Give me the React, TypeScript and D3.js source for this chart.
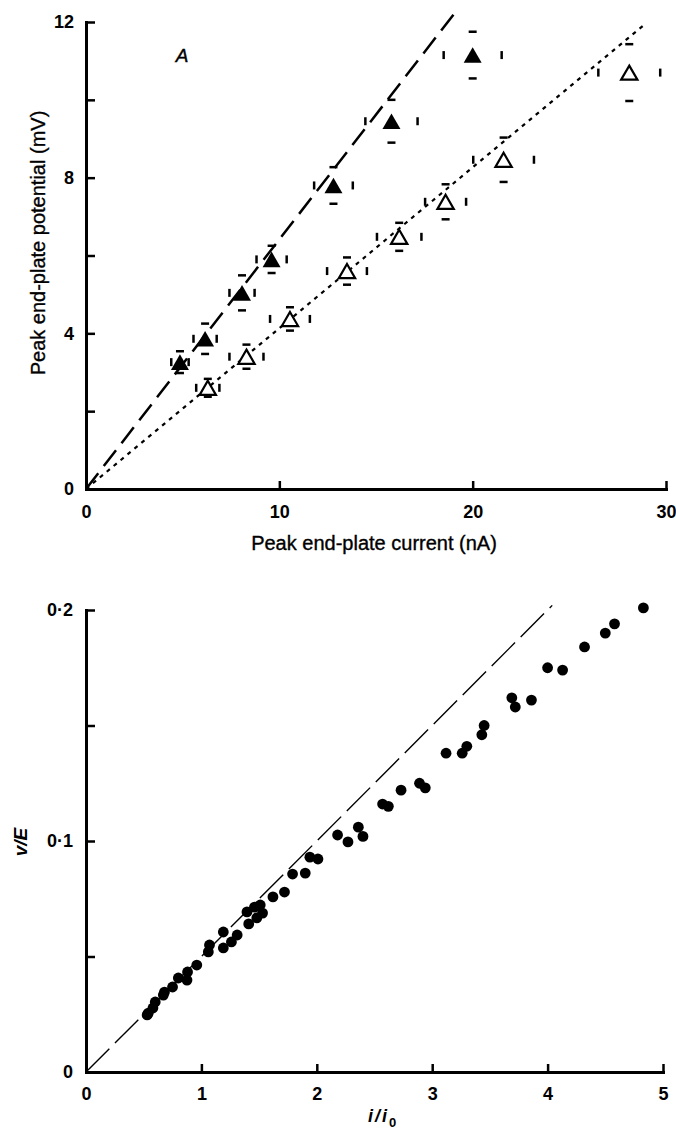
import * as d3 from 'd3';
import React, { useEffect, useRef } from 'react';

// Panel A: filled triangles (dashed fit)
const filledCurrent = [4.86, 6.16, 8.07, 9.6, 12.8, 15.8, 20.0];
const filledPotential = [3.26, 3.86, 5.04, 5.9, 7.8, 9.45, 11.15];
const filledCurrentErr = [0.45, 0.6, 0.65, 0.78, 1.0, 1.35, 1.5];
const filledPotentialErr = [0.28, 0.39, 0.45, 0.35, 0.47, 0.55, 0.6];

// Panel A: open triangles (dotted fit)
const openCurrent = [6.3, 8.3, 10.55, 13.5, 16.2, 18.6, 21.6, 28.1];
const openPotential = [2.6, 3.4, 4.37, 5.6, 6.48, 7.38, 8.46, 10.7];
const openCurrentErr = [0.6, 0.88, 1.03, 1.03, 1.15, 1.06, 1.57, 1.6];
const openPotentialErr = [0.23, 0.31, 0.3, 0.35, 0.36, 0.45, 0.57, 0.73];

const dashedFit = [[0, 0], [19.1, 12.25]];
const dottedFit = [[0, 0], [28.8, 11.9]];

// Panel B: normalised points
const ratioCurrent = [
    0.53, 0.54, 0.58, 0.6, 0.67, 0.68, 0.75, 0.8, 0.875, 0.88, 0.96,
    1.06, 1.07, 1.19, 1.19, 1.26, 1.31,
    1.395, 1.41, 1.46, 1.48, 1.51, 1.53,
    1.62, 1.72, 1.79, 1.9, 1.94, 2.01,
    2.18, 2.27, 2.36, 2.4, 2.57, 2.62, 2.73, 2.89, 2.94,
    3.12, 3.26, 3.3, 3.43, 3.45, 3.69, 3.72, 3.86,
    4.0, 4.13, 4.32, 4.5, 4.58, 4.83
];
const ratioPotential = [
    0.0247, 0.0255, 0.0277, 0.0303, 0.0333, 0.0346, 0.0368, 0.0407, 0.0398, 0.0433, 0.0463,
    0.052, 0.055, 0.0537, 0.0606, 0.0563, 0.0593,
    0.0693, 0.0641, 0.0714, 0.0667, 0.0723, 0.0688,
    0.0758, 0.0779, 0.0857, 0.0861, 0.093, 0.0922,
    0.1026, 0.0996, 0.106, 0.102, 0.116, 0.115, 0.122, 0.125, 0.123,
    0.138, 0.138, 0.141, 0.146, 0.15, 0.162, 0.158, 0.161,
    0.175, 0.174, 0.184, 0.19, 0.194, 0.2009
];
const unityLine = [[0, 0], [4.04, 0.202]];

// Tick values and labels
const topXTicks = [0, 10, 20, 30];
const topXLabels = ['0', '10', '20', '30'];
const topYTicks = [0, 2, 4, 6, 8, 10, 12];
const topYLabels = ['0', '', '4', '', '8', '', '12'];
const bottomXTicks = [0, 1, 2, 3, 4, 5];
const bottomXLabels = ['0', '1', '2', '3', '4', '5'];
const bottomYTicks = [0, 0.05, 0.1, 0.15, 0.2];
const bottomYLabels = ['0', '', '0·1', '', '0·2'];

const FONT = "'Liberation Sans', Arial, Helvetica, sans-serif";

const App = () => {
    const svgRef = useRef(null);

    useEffect(() => {
        const svg = d3.select(svgRef.current);
        svg.selectAll('*').remove();

        // scales
        const xA = d3.scaleLinear().domain([0, 30]).range([86, 666]);
        const yA = d3.scaleLinear().domain([0, 12]).range([489, 22]);
        const xB = d3.scaleLinear().domain([0, 5]).range([86, 663]);
        const yB = d3.scaleLinear().domain([0, 0.2]).range([1072, 610]);

        const drawAxes = (x, y, xTicks, xLabels, yTicks, yLabels, xPad, yPad) => {
            const gx = svg.append('g')
                .attr('transform', `translate(0,${y.range()[0]})`)
                .call(d3.axisBottom(x).tickValues(xTicks).tickSize(-8).tickSizeOuter(0)
                    .tickPadding(xPad).tickFormat((d, i) => xLabels[i]));
            const gy = svg.append('g')
                .attr('transform', `translate(${x.range()[0]},0)`)
                .call(d3.axisLeft(y).tickValues(yTicks).tickSize(-9).tickSizeOuter(0)
                    .tickPadding(yPad).tickFormat((d, i) => yLabels[i]));
            [gx, gy].forEach(g => {
                g.attr('font-family', FONT).attr('font-size', 18).attr('font-weight', 'bold');
                g.select('.domain').attr('stroke', '#000').attr('stroke-width', 3)
                    .attr('stroke-linecap', 'square');
                g.selectAll('.tick line').attr('stroke', '#000').attr('stroke-width', 2.5);
                g.selectAll('.tick text').attr('fill', '#000');
            });
        };

        drawAxes(xA, yA, topXTicks, topXLabels, topYTicks, topYLabels, 16, 12);
        drawAxes(xB, yB, bottomXTicks, bottomXLabels, bottomYTicks, bottomYLabels, 15, 13);

        const line = (x, y) => d3.line().x(d => x(d[0])).y(d => y(d[1]));

        // fitted lines, panel A
        svg.append('path').datum(dashedFit)
            .attr('d', line(xA, yA)).attr('fill', 'none').attr('stroke', '#000')
            .attr('stroke-width', 2.5).attr('stroke-dasharray', '20 9');
        svg.append('path').datum(dottedFit)
            .attr('d', line(xA, yA)).attr('fill', 'none').attr('stroke', '#000')
            .attr('stroke-width', 2.2).attr('stroke-dasharray', '4 5');

        // error caps only (as printed)
        const drawCaps = (cur, pot, curErr, potErr) => {
            const g = svg.append('g').attr('stroke', '#000').attr('stroke-width', 2.5);
            cur.forEach((c, i) => {
                const cx = xA(c), cy = yA(pot[i]);
                [pot[i] + potErr[i], pot[i] - potErr[i]].forEach(v => {
                    g.append('line').attr('x1', cx - 4).attr('x2', cx + 4)
                        .attr('y1', yA(v)).attr('y2', yA(v));
                });
                [c - curErr[i], c + curErr[i]].forEach(v => {
                    g.append('line').attr('y1', cy - 4).attr('y2', cy + 4)
                        .attr('x1', xA(v)).attr('x2', xA(v));
                });
            });
        };
        drawCaps(filledCurrent, filledPotential, filledCurrentErr, filledPotentialErr);
        drawCaps(openCurrent, openPotential, openCurrentErr, openPotentialErr);

        // triangles: shift so the bounding box is centred on the point
        const tri = d3.symbol().type(d3.symbolTriangle);
        svg.append('g').selectAll('path').data(filledCurrent).join('path')
            .attr('d', tri.size(140)())
            .attr('transform', (d, i) => `translate(${xA(d)},${yA(filledPotential[i]) + 2.6})`)
            .attr('fill', '#000');
        svg.append('g').selectAll('path').data(openCurrent).join('path')
            .attr('d', tri.size(115)())
            .attr('transform', (d, i) => `translate(${xA(d)},${yA(openPotential[i]) + 2.4})`)
            .attr('fill', '#fff').attr('stroke', '#000').attr('stroke-width', 2.2)
            .attr('stroke-linejoin', 'miter');

        // panel A labels (slight stroke for the heavier print look)
        svg.append('text').attr('x', 182).attr('y', 62).attr('text-anchor', 'middle')
            .attr('font-family', FONT).attr('font-size', 19).attr('font-style', 'italic')
            .attr('stroke', '#000').attr('stroke-width', 0.4)
            .text('A');
        svg.append('text').attr('x', 374).attr('y', 550).attr('text-anchor', 'middle')
            .attr('font-family', FONT).attr('font-size', 20)
            .attr('stroke', '#000').attr('stroke-width', 0.35)
            .text('Peak end-plate current (nA)');
        svg.append('text').attr('transform', 'translate(45,243) rotate(-90)')
            .attr('text-anchor', 'middle')
            .attr('font-family', FONT).attr('font-size', 20)
            .attr('stroke', '#000').attr('stroke-width', 0.35)
            .text('Peak end-plate potential (mV)');

        // panel B
        svg.append('path').datum(unityLine)
            .attr('d', line(xB, yB)).attr('fill', 'none').attr('stroke', '#000')
            .attr('stroke-width', 1.4).attr('stroke-dasharray', '33 8');
        svg.append('g').selectAll('circle').data(ratioCurrent).join('circle')
            .attr('cx', d => xB(d)).attr('cy', (d, i) => yB(ratioPotential[i]))
            .attr('r', 5.4).attr('fill', '#000');

        svg.append('text').attr('transform', 'translate(27,842) rotate(-90)')
            .attr('text-anchor', 'middle')
            .attr('font-family', FONT).attr('font-size', 19)
            .attr('font-style', 'italic').attr('font-weight', 'bold')
            .text('v/E');
        const iLabel = svg.append('text').attr('x', 368).attr('y', 1122)
            .attr('font-family', FONT).attr('font-size', 18)
            .attr('font-style', 'italic').attr('font-weight', 'bold')
            .attr('letter-spacing', 2);
        iLabel.append('tspan').text('i/i');
        iLabel.append('tspan').attr('dy', 5).attr('font-size', 13).attr('font-style', 'normal')
            .text('0');
    }, []);

    return (
        <svg ref={svgRef} width={676} height={1136}
            style={{ position: 'absolute', left: 0, top: 0, background: '#fff' }} />
    );
};

export default App;
